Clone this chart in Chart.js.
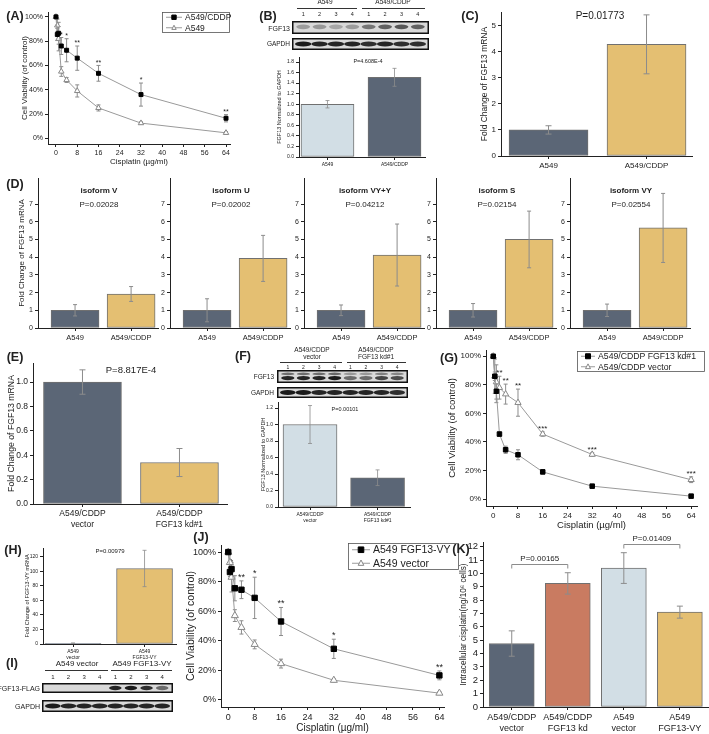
<!DOCTYPE html>
<html>
<head>
<meta charset="utf-8">
<title>FGF13 and cisplatin resistance</title>
<script src="https://cdn.jsdelivr.net/npm/chart.js@4.4.1/dist/chart.umd.min.js"></script>
<style>
  body { margin: 0; background: #fff; }
  #fig { position: relative; width: 709px; height: 734px; overflow: hidden; font-family: "Liberation Sans", Arial, sans-serif; color: #222; }
  #fig canvas { position: absolute; }
  .t { position: absolute; white-space: nowrap; line-height: 1; z-index: 2; }
  .rule { position: absolute; height: 0; border-top: 1px solid #333; }
</style>
</head>
<body>
<div id="fig"></div>
<script>
// ---------- data ----------
const doses = [0, 0.5, 1, 2, 4, 8, 16, 32, 64];
const doseTicks = [0, 8, 16, 24, 32, 40, 48, 56, 64];
const pctTicks = [0, 20, 40, 60, 80, 100];
const laneNums = ['1', '2', '3', '4', '1', '2', '3', '4'];

// (A) dose response, parental vs resistant
const aCddp = [100, 85.5, 86.5, 76, 72.5, 66, 53.5, 36, 16.5];
const aCddpErr = [1, 5, 9, 7, 9.5, 10, 6.5, 9.5, 3];
const aCddpSig = ['', '', '', '*', '*', '**', '**', '*', '**'];
const aA549 = [100, 93, 82, 55, 48, 39, 25, 12.5, 4.5];
const aA549Err = [1, 5, 10, 4, 2, 5, 2.5, 1, 1];

// (B) western blot quantification
const bGroups = ['A549', 'A549/CDDP'];
const bVals = [1.0, 1.51];
const bErr = [0.07, 0.17];
const bTicks = [0, 0.2, 0.4, 0.6, 0.8, 1.0, 1.2, 1.4, 1.6, 1.8];
const bBandFGF13 = [0.3, 0.32, 0.25, 0.3, 0.5, 0.6, 0.65, 0.6];
const bBandGAPDH = [0.95, 0.9, 0.9, 0.9, 0.85, 0.9, 0.85, 0.85];

// (C) FGF13 mRNA
const cGroups = ['A549', 'A549/CDDP'];
const cVals = [1.0, 4.28];
const cErr = [0.16, 1.13];
const cTicks = [0, 1, 2, 3, 4, 5];

// (D) isoforms
const dIsoforms = ['isoform V', 'isoform U', 'isoform VY+Y', 'isoform S', 'isoform VY'];
const dP = ['P=0.02028', 'P=0.02002', 'P=0.04212', 'P=0.02154', 'P=0.02554'];
const dGroups = ['A549', 'A549/CDDP'];
const dA549 = [1, 1, 1, 1, 1];
const dA549Err = [0.32, 0.65, 0.3, 0.38, 0.35];
const dCddp = [1.92, 3.93, 4.12, 5.0, 5.65];
const dCddpErr = [0.42, 1.3, 1.75, 1.6, 1.95];
const dTicks = [0, 1, 2, 3, 4, 5, 6, 7];

// (E) knockdown mRNA
const eGroups = [['A549/CDDP', 'vector'], ['A549/CDDP', 'FGF13 kd#1']];
const eVals = [1.0, 0.34];
const eErr = [0.1, 0.115];
const eTicks = [0, 0.2, 0.4, 0.6, 0.8, 1.0];

// (F) knockdown protein
const fGroups = [['A549/CDDP', 'vector'], ['A549/CDDP', 'FGF13 kd#1']];
const fVals = [1.0, 0.355];
const fErr = [0.23, 0.095];
const fTicks = [0, 0.2, 0.4, 0.6, 0.8, 1.0, 1.2];
const fBandFGF13 = [0.9, 0.9, 0.9, 0.95, 0.55, 0.55, 0.75, 0.7];
const fBandGAPDH = [0.95, 0.95, 0.9, 0.9, 0.9, 0.9, 0.9, 0.85];

// (G) knockdown dose response
const gKd = [100, 86, 75.5, 45.5, 34.5, 31, 19, 9, 2];
const gKdErr = [1, 3, 8, 1.5, 2.5, 3.5, 1.5, 0.8, 0.8];
const gVec = [100, 86, 82, 78, 73.5, 67.5, 45.5, 31.2, 13.5];
const gVecErr = [1, 12, 12, 8, 7, 9.5, 1.5, 1.2, 2];
const gVecSig = ['', '', '', '**', '**', '**', '***', '***', '***'];

// (H) overexpression mRNA
const hGroups = [['A549', 'vector'], ['A549', 'FGF13-VY']];
const hVals = [1, 104];
const hErr = [0.5, 25];
const hTicks = [0, 20, 40, 60, 80, 100, 120];

// (I) overexpression blot
const iBandFLAG = [0, 0, 0, 0, 0.9, 0.95, 0.85, 0.55];
const iBandGAPDH = [0.95, 0.9, 0.9, 0.9, 0.9, 0.9, 0.9, 0.9];

// (J) overexpression dose response
const jVy = [100, 86.5, 88.5, 75.5, 74.5, 69, 53, 34.5, 16.5];
const jVyErr = [1, 3, 2, 8.5, 6, 14, 9.5, 6.5, 3];
const jVySig = ['', '', '*', '', '**', '*', '**', '*', '**'];
const jVec = [100, 93, 83, 57, 49, 37.5, 24.5, 13.2, 4.5];
const jVecErr = [1, 6, 10, 4, 4.5, 3, 3, 1, 1];

// (K) intracellular cisplatin
const kGroups = [['A549/CDDP', 'vector'], ['A549/CDDP', 'FGF13 kd'], ['A549', 'vector'], ['A549', 'FGF13-VY']];
const kVals = [4.75, 9.25, 10.4, 7.1];
const kErr = [0.95, 0.8, 1.15, 0.45];
const kTicks = [0, 1, 2, 3, 4, 5, 6, 7, 8, 9, 10, 11, 12];
const kPairs = [[0, 1, 'P=0.00165'], [2, 3, 'P=0.01409']];

// ---------- helpers ----------
const FF = '"Liberation Sans", Arial, sans-serif';
const DARK = '#5b6676', GOLD = '#e4bf72', LIGHT = '#d2dee5', RUST = '#c97b61';
const fig = document.getElementById('fig');

function text(str, x, y, size, opt = {}) {
  const d = document.createElement('div');
  d.className = 't';
  d.textContent = str;
  d.style.fontSize = size + 'px';
  if (opt.bold) d.style.fontWeight = 'bold';
  const ax = opt.align === 'right' ? '-100%' : opt.align === 'left' ? '0' : '-50%';
  d.style.left = x + 'px';
  d.style.top = y + 'px';
  d.style.transform = 'translate(' + ax + ',-50%)';
  fig.appendChild(d);
}
function rule(x0, x1, y) {
  const d = document.createElement('div');
  d.className = 'rule';
  d.style.left = x0 + 'px';
  d.style.width = (x1 - x0) + 'px';
  d.style.top = y + 'px';
  fig.appendChild(d);
}
function makeCanvas(box, m) {
  const c = document.createElement('canvas');
  c.width = Math.round(box[2] - box[0] + m[0] + m[2]);
  c.height = Math.round(box[3] - box[1] + m[1] + m[3]);
  c.style.left = (box[0] - m[0]) + 'px';
  c.style.top = (box[1] - m[1]) + 'px';
  fig.appendChild(c);
  return c;
}

function blot(x, y, w, h, lanes, style) {
  const c = document.createElement('canvas');
  c.width = w; c.height = h;
  c.style.left = x + 'px'; c.style.top = y + 'px';
  fig.appendChild(c);
  const g = c.getContext('2d');
  g.fillStyle = '#d9d9d9';
  g.fillRect(0, 0, w, h);
  const inset = 3, lw = (w - 2 * inset) / lanes.length;
  lanes.forEach((a, i) => {
    if (!a) return;
    const cx = inset + lw * (i + 0.5);
    style.rows.forEach(([ry, rh, rk]) => {
      g.save();
      g.filter = 'blur(0.7px)';
      g.globalAlpha = Math.min(1, a * rk);
      g.fillStyle = '#111';
      g.beginPath();
      g.ellipse(cx, h * ry, lw * style.wide / 2, h * rh / 2, 0, 0, Math.PI * 2);
      g.fill();
      g.restore();
    });
  });
  g.strokeStyle = '#111';
  g.lineWidth = 1.5;
  g.strokeRect(0.75, 0.75, w - 1.5, h - 1.5);
}
function laneLabels(x, w, y, size) {
  const inset = 3, lw = (w - 2 * inset) / laneNums.length;
  laneNums.forEach((n, i) => text(n, x + inset + lw * (i + 0.5), y, size));
}

// error bars + significance stars
function drawErr(chart, o) {
  const ctx = chart.ctx, ys = chart.scales.y;
  chart.data.datasets.forEach((ds, i) => {
    if (!ds.errors) return;
    chart.getDatasetMeta(i).data.forEach((el, j) => {
      const v = ds.data[j].y, e = ds.errors[j];
      const x = el.x, top = ys.getPixelForValue(v + e), bot = ys.getPixelForValue(v - e);
      const c = o.cap || 2;
      ctx.save();
      ctx.strokeStyle = o.color || '#8c8c8c';
      ctx.lineWidth = o.width || 1;
      ctx.beginPath();
      ctx.moveTo(x, top); ctx.lineTo(x, bot);
      ctx.moveTo(x - c, top); ctx.lineTo(x + c, top);
      ctx.moveTo(x - c, bot); ctx.lineTo(x + c, bot);
      ctx.stroke();
      if (ds.sig && ds.sig[j]) {
        ctx.fillStyle = '#222';
        ctx.font = (o.sigSize || 8) + 'px ' + FF;
        ctx.textAlign = 'center';
        ctx.textBaseline = 'bottom';
        ctx.fillText(ds.sig[j], x, top + 1);
      }
      ctx.restore();
    });
  });
}
const errBars = {
  id: 'errBars',
  beforeDatasetsDraw(chart, a, o) { if (o.under) drawErr(chart, o); },
  afterDatasetsDraw(chart, a, o) { if (!o.under) drawErr(chart, o); }
};

function marker(ctx, ds, cx, cy, r) {
  ctx.fillStyle = ds.pointBackgroundColor;
  ctx.strokeStyle = ds.pointBorderColor;
  ctx.lineWidth = 1;
  ctx.beginPath();
  if (ds.pointStyle === 'rect') {
    ctx.rect(cx - r, cy - r, 2 * r, 2 * r);
  } else {
    ctx.moveTo(cx, cy - r * 1.15);
    ctx.lineTo(cx + r, cy + r * 0.75);
    ctx.lineTo(cx - r, cy + r * 0.75);
    ctx.closePath();
  }
  ctx.fill();
  ctx.stroke();
}
const boxLegend = {
  id: 'boxLegend',
  afterDraw(chart, a, o) {
    if (!o.box) return;
    const ctx = chart.ctx, [x, y, w, h] = o.box, n = chart.data.datasets.length;
    ctx.save();
    ctx.fillStyle = '#fff';
    ctx.fillRect(x, y, w, h);
    ctx.strokeStyle = '#555';
    ctx.lineWidth = 0.8;
    ctx.strokeRect(x + 0.5, y + 0.5, w - 1, h - 1);
    ctx.font = o.size + 'px ' + FF;
    ctx.textBaseline = 'middle';
    ctx.textAlign = 'left';
    chart.data.datasets.forEach((ds, i) => {
      const cy = y + h * (i + 0.5) / n, lx = x + 4;
      ctx.strokeStyle = ds.borderColor;
      ctx.lineWidth = 1;
      ctx.beginPath(); ctx.moveTo(lx, cy); ctx.lineTo(lx + o.line, cy); ctx.stroke();
      marker(ctx, ds, lx + o.line / 2, cy, o.mark);
      ctx.fillStyle = '#222';
      ctx.fillText(ds.label, lx + o.line + 3, cy + 0.5);
    });
    ctx.restore();
  }
};

const brackets = {
  id: 'brackets',
  afterDatasetsDraw(chart, a, o) {
    if (!o.pairs) return;
    const ctx = chart.ctx, xs = chart.scales.x, ys = chart.scales.y, ds = chart.data.datasets[0];
    o.pairs.forEach(([i, j, label]) => {
      const lvl = Math.max(ds.data[i].y + ds.errors[i], ds.data[j].y + ds.errors[j]) + o.gap;
      const y = Math.round(ys.getPixelForValue(lvl)) + 0.5;
      const x1 = xs.getPixelForValue(i + 1), x2 = xs.getPixelForValue(j + 1);
      ctx.save();
      ctx.strokeStyle = '#8c8c8c';
      ctx.lineWidth = 1;
      ctx.beginPath();
      ctx.moveTo(x1, y + 4); ctx.lineTo(x1, y); ctx.lineTo(x2, y); ctx.lineTo(x2, y + 4);
      ctx.stroke();
      ctx.fillStyle = '#222';
      ctx.font = o.size + 'px ' + FF;
      ctx.textAlign = 'center';
      ctx.textBaseline = 'bottom';
      ctx.fillText(label, (x1 + x2) / 2, y - 2);
      ctx.restore();
    });
  }
};

function axis(o) {
  return {
    type: 'linear', min: o.min, max: o.max, offset: false,
    afterBuildTicks: s => { s.ticks = o.ticks.map(v => ({ value: v })); },
    afterFit: s => { if (s.isHorizontal()) s.height = o.fit; else s.width = o.fit; },
    ticks: { autoSkip: false, maxRotation: 0, padding: 2, color: '#222',
             font: { size: o.size, family: FF }, callback: o.fmt || (v => v) },
    grid: { display: true, drawOnChartArea: false, drawTicks: true, tickLength: 3, color: '#222', offset: false },
    border: { display: true, color: '#222', width: 1 },
    title: { display: !!o.title, text: o.title || '', padding: 0, color: '#222',
             font: { size: o.tsize || 9, family: FF } }
  };
}

function lineChart(p) {
  const c = makeCanvas(p.box, p.m);
  const cl = p.box[0] - p.m[0], ct = p.box[1] - p.m[1];
  new Chart(c, {
    type: 'scatter',
    data: {
      datasets: p.series.map(s => ({
        label: s.label,
        data: doses.map((d, i) => ({ x: d, y: s.vals[i] })),
        errors: s.err, sig: s.sig,
        showLine: true, borderColor: '#9a9a9a', borderWidth: 1,
        pointStyle: s.style, pointRadius: s.r, pointBorderWidth: 1,
        pointBackgroundColor: s.fill, pointBorderColor: s.edge
      }))
    },
    options: {
      responsive: false, animation: false, events: [],
      layout: { padding: { left: 0, top: p.m[1], right: p.m[2], bottom: 0 } },
      scales: {
        x: axis({ min: p.xr[0], max: p.xr[1], ticks: doseTicks, size: p.ts, fit: p.m[3],
                  title: 'Cisplatin (\u00b5g/ml)', tsize: p.tt }),
        y: axis({ min: p.yr[0], max: p.yr[1], ticks: pctTicks, size: p.ts, fit: p.m[0],
                  fmt: v => v + '%', title: 'Cell Viability (of control)', tsize: p.ty || p.tt })
      },
      plugins: {
        legend: { display: false }, tooltip: { enabled: false },
        errBars: { under: true, cap: 2, sigSize: p.sig },
        boxLegend: { box: [p.leg[0] - cl, p.leg[1] - ct, p.leg[2], p.leg[3]], size: p.legSize, line: p.legLine, mark: p.legMark }
      }
    },
    plugins: [errBars, boxLegend]
  });
}

function barChart(p) {
  const c = makeCanvas(p.box, p.m);
  new Chart(c, {
    type: 'bar',
    data: {
      datasets: [{
        data: p.vals.map((v, i) => ({ x: i + 1, y: v })),
        errors: p.err,
        backgroundColor: p.colors, borderColor: '#707070', borderWidth: 1,
        borderSkipped: false, barThickness: p.bw
      }]
    },
    options: {
      responsive: false, animation: false, events: [],
      layout: { padding: { left: 0, top: p.m[1], right: p.m[2], bottom: 0 } },
      scales: {
        x: axis({ min: p.xr[0], max: p.xr[1], ticks: p.groups.map((g, i) => i + 1),
                  fmt: v => p.groups[Math.round(v) - 1], size: p.xs, fit: p.m[3] }),
        y: axis({ min: 0, max: p.ymax, ticks: p.ticks, fmt: p.fmt, size: p.ys, fit: p.m[0],
                  title: p.title, tsize: p.tsize })
      },
      plugins: {
        legend: { display: false }, tooltip: { enabled: false },
        errBars: { cap: p.cap || 2, width: p.ew || 1, color: '#8c8c8c' },
        brackets: { pairs: p.pairs, gap: 0.65, size: 8 }
      }
    },
    plugins: [errBars, brackets]
  });
}
const dec1 = v => v.toFixed(1);

// ---------- panel letters ----------
[['(A)', 15, 16], ['(B)', 268, 16], ['(C)', 470, 16], ['(D)', 15, 184], ['(E)', 15, 357],
 ['(F)', 243, 356], ['(G)', 449, 358], ['(H)', 13, 550], ['(I)', 12, 663], ['(J)', 201, 537],
 ['(K)', 461, 549]].forEach(([s, x, y]) => text(s, x, y, 12.5, { bold: true }));

// ---------- (A) ----------
lineChart({
  box: [48, 12, 230, 144], m: [28, 8, 6, 23], xr: [-3, 65.5], yr: [-4.7, 104],
  ts: 7, tt: 8, sig: 7, leg: [162, 12, 68, 21], legSize: 8.5, legLine: 16, legMark: 2.2,
  series: [
    { label: 'A549/CDDP', vals: aCddp, err: aCddpErr, sig: aCddpSig, style: 'rect', r: 2.8, fill: '#000', edge: '#000' },
    { label: 'A549', vals: aA549, err: aA549Err, style: 'triangle', r: 3.2, fill: '#fff', edge: '#888' }
  ]
});

// ---------- (B) ----------
text('A549', 325, 2, 6.5);
text('A549/CDDP', 393, 2, 6.5);
rule(297, 357, 8);
rule(362, 425, 8);
laneLabels(292, 137, 15, 5.5);
text('FGF13', 290, 28, 7, { align: 'right' });
text('GAPDH', 290, 44, 6.5, { align: 'right' });
blot(292, 21, 137, 13, bBandFGF13, { rows: [[0.45, 0.35, 1]], wide: 0.85 });
blot(292, 38, 137, 12, bBandGAPDH, { rows: [[0.5, 0.4, 1]], wide: 1.0 });
barChart({
  box: [299, 57, 425, 157], m: [23, 8, 6, 12], xr: [0.575, 2.455], bw: 53,
  groups: bGroups, vals: bVals, err: bErr, colors: [LIGHT, DARK],
  ymax: 1.895, ticks: bTicks, fmt: dec1, ys: 5, xs: 5, title: 'FGF13 Normalized to GAPDH', tsize: 5.5, ew: 0.8
});
text('P=4.608E-4', 368, 62, 5.5);

// ---------- (C) ----------
barChart({
  box: [501, 12, 692, 156], m: [21, 8, 10, 16], xr: [0.515, 2.464], bw: 79,
  groups: cGroups, vals: cVals, err: cErr, colors: [DARK, GOLD],
  ymax: 5.52, ticks: cTicks, ys: 8, xs: 8, title: 'Fold Change of FGF13 mRNA', tsize: 8.5, cap: 3
});
text('P=0.01773', 600, 16, 10);

// ---------- (D) ----------
[38, 170, 304, 436, 570].forEach((x0, k) => {
  barChart({
    box: [x0, 178, x0 + 120, 328], m: [k === 0 ? 21 : 14, 8, 4, 14], xr: [0.339, 2.48], bw: 48,
    groups: dGroups, vals: [dA549[k], dCddp[k]], err: [dA549Err[k], dCddpErr[k]], colors: [DARK, GOLD],
    ymax: 8.47, ticks: dTicks, ys: 7, xs: 7.5,
    title: k === 0 ? 'Fold Change of FGF13 mRNA' : '', tsize: 8
  });
  text(dIsoforms[k], x0 + 61, 191, 8, { bold: true });
  text(dP[k], x0 + 61, 205, 8);
});

// ---------- (E) ----------
barChart({
  box: [33, 363, 227, 504], m: [27, 8, 6, 30], xr: [0.49, 2.49], bw: 78,
  groups: eGroups, vals: eVals, err: eErr, colors: [DARK, GOLD],
  ymax: 1.156, ticks: eTicks, fmt: dec1, ys: 8.5, xs: 8.5, title: 'Fold Change of FGF13 mRNA', tsize: 8.7, cap: 3
});
text('P=8.817E-4', 131, 370, 9.5);

// ---------- (F) ----------
text('A549/CDDP', 312, 350, 6.5);
text('vector', 312, 357, 6.5);
text('A549/CDDP', 376, 350, 6.5);
text('FGF13 kd#1', 376, 357, 6.5);
rule(280, 342, 362);
rule(347, 406, 362);
laneLabels(277, 131, 367, 5);
text('FGF13', 274, 377, 6.5, { align: 'right' });
text('GAPDH', 274, 393, 6.5, { align: 'right' });
blot(277, 370, 131, 13, fBandFGF13, { rows: [[0.3, 0.2, 0.6], [0.62, 0.32, 1]], wide: 0.85 });
blot(277, 387, 131, 11, fBandGAPDH, { rows: [[0.5, 0.45, 1]], wide: 1.0 });
barChart({
  box: [278, 402, 410, 507], m: [18, 8, 6, 18], xr: [0.526, 2.48], bw: 54,
  groups: fGroups, vals: fVals, err: fErr, colors: [LIGHT, DARK],
  ymax: 1.273, ticks: fTicks, fmt: dec1, ys: 5, xs: 5, title: 'FGF13 Normalized to GAPDH', tsize: 5.5, ew: 0.8
});
text('P=0.00101', 345, 410, 5.5);

// ---------- (G) ----------
lineChart({
  box: [486, 350, 697, 506], m: [39, 8, 12, 25], xr: [-2.35, 65.9], yr: [-4.9, 104.4],
  ts: 8, tt: 9.5, sig: 8, leg: [577, 351, 128, 21], legSize: 8.7, legLine: 14, legMark: 2.5,
  series: [
    { label: 'A549/CDDP FGF13 kd#1', vals: gKd, err: gKdErr, style: 'rect', r: 3.2, fill: '#000', edge: '#000' },
    { label: 'A549/CDDP vector', vals: gVec, err: gVecErr, sig: gVecSig, style: 'triangle', r: 3.6, fill: '#fff', edge: '#888' }
  ]
});

// ---------- (H) ----------
barChart({
  box: [43, 548, 176, 644], m: [19, 8, 6, 16], xr: [0.58, 2.44], bw: 56,
  groups: hGroups, vals: hVals, err: hErr, colors: [DARK, GOLD],
  ymax: 132.2, ticks: hTicks, ys: 5, xs: 5, title: 'Fold Change of FGF13-VY mRNA', tsize: 5.5, ew: 0.8
});
text('P=0.00979', 110, 551, 6);

// ---------- (I) ----------
text('A549 vector', 77, 664, 8);
text('A549 FGF13-VY', 142, 664, 8);
rule(45, 108, 670);
rule(111, 172, 670);
laneLabels(42, 131, 677, 6);
text('FGF13-FLAG', 40, 688, 7, { align: 'right' });
text('GAPDH', 40, 706, 7, { align: 'right' });
blot(42, 683, 131, 10, iBandFLAG, { rows: [[0.5, 0.45, 1]], wide: 0.8 });
blot(42, 700, 131, 12, iBandGAPDH, { rows: [[0.5, 0.4, 1]], wide: 1.0 });

// ---------- (J) ----------
lineChart({
  box: [221, 545, 444, 707], m: [36, 8, 16, 27], xr: [-2.2, 65.4], yr: [-4.9, 104.8],
  ts: 9, tt: 10, ty: 10.5, sig: 9, leg: [348, 543, 111, 27], legSize: 10.5, legLine: 18, legMark: 2.8,
  series: [
    { label: 'A549 FGF13-VY', vals: jVy, err: jVyErr, sig: jVySig, style: 'rect', r: 3.8, fill: '#000', edge: '#000' },
    { label: 'A549 vector', vals: jVec, err: jVecErr, style: 'triangle', r: 4.1, fill: '#fff', edge: '#888' }
  ]
});

// ---------- (K) ----------
barChart({
  box: [483, 542, 709, 707], m: [24, 12, 0, 28], xr: [0.487, 4.52], bw: 45,
  groups: kGroups, vals: kVals, err: kErr, colors: [DARK, RUST, LIGHT, GOLD], pairs: kPairs,
  ymax: 12.35, ticks: kTicks, ys: 9.5, xs: 9, title: 'Intracellular cisplatin(ng/10\u2076 cells)', tsize: 8.2, cap: 3
});
</script>
</body>
</html>
